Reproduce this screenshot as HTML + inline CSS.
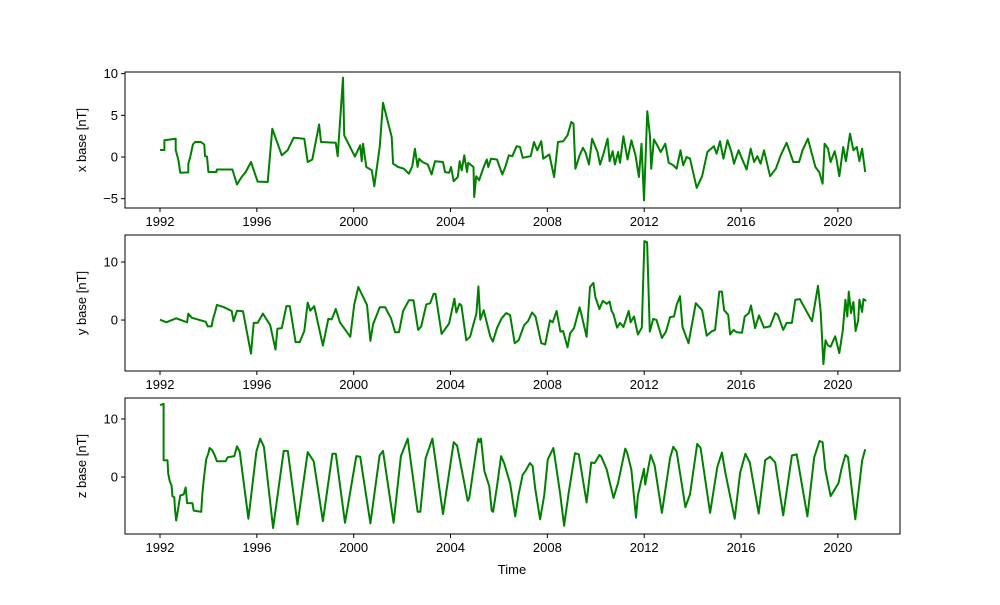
<!DOCTYPE html>
<html><head><meta charset="utf-8"><style>
html,body{margin:0;padding:0;background:#fff;}
svg text{font-family:"Liberation Sans","DejaVu Sans",sans-serif;font-size:13px;fill:#000;}
</style></head><body>
<svg id="chart" width="1000" height="600" viewBox="0 0 1000 600" xmlns="http://www.w3.org/2000/svg"></svg>
<script>
const xTickYears = [1992,1996,2000,2004,2008,2012,2016,2020];
const xBaseT = [1992.0,1992.18,1992.18,1992.65,1992.65,1992.76,1992.84,1993.17,1993.17,1993.25,1993.36,1993.45,1993.69,1993.83,1993.86,1993.94,1994.0,1994.33,1994.35,1994.99,1995.18,1995.37,1995.54,1995.76,1996.03,1996.45,1996.64,1997.03,1997.27,1997.52,1997.96,1998.1,1998.29,1998.57,1998.65,1999.26,1999.34,1999.56,1999.61,2000.05,2000.27,2000.33,2000.39,2000.52,2000.75,2000.85,2001.08,2001.21,2001.57,2001.63,2001.84,2002.07,2002.28,2002.42,2002.53,2002.64,2002.7,2002.84,2003.06,2003.22,2003.36,2003.69,2003.77,2003.94,2004.02,2004.13,2004.3,2004.38,2004.46,2004.57,2004.68,2004.73,2004.95,2004.98,2005.06,2005.18,2005.37,2005.5,2005.56,2005.67,2005.92,2006.14,2006.25,2006.41,2006.55,2006.73,2006.87,2006.98,2007.31,2007.45,2007.58,2007.75,2007.83,2008.08,2008.28,2008.44,2008.66,2008.83,2008.99,2009.08,2009.16,2009.33,2009.47,2009.58,2009.72,2009.85,2010.07,2010.18,2010.32,2010.49,2010.57,2010.7,2010.79,2010.92,2011.0,2011.14,2011.31,2011.47,2011.64,2011.78,2011.89,2011.99,2012.13,2012.24,2012.29,2012.4,2012.52,2012.68,2012.87,2013.01,2013.2,2013.34,2013.5,2013.61,2013.75,2013.89,2014.17,2014.39,2014.61,2014.72,2014.88,2014.99,2015.13,2015.27,2015.44,2015.6,2015.71,2015.9,2016.04,2016.23,2016.4,2016.54,2016.67,2016.81,2016.95,2017.2,2017.44,2017.64,2017.88,2018.16,2018.4,2018.54,2018.76,2019.07,2019.23,2019.37,2019.45,2019.59,2019.7,2019.87,2019.95,2020.06,2020.22,2020.33,2020.5,2020.64,2020.78,2020.89,2021.0,2021.13];
const xBaseV = [0.84,0.84,2.0,2.2,0.84,-0.36,-1.9,-1.85,-0.84,0.05,1.5,1.8,1.8,1.5,0.1,0.05,-1.8,-1.8,-1.5,-1.5,-3.3,-2.4,-1.8,-0.6,-2.95,-3.0,3.4,0.2,0.8,2.3,2.2,-0.6,-0.3,3.9,1.8,1.7,0.1,9.5,2.6,0.05,1.4,-0.5,1.6,-1.2,-1.6,-3.5,1.3,6.5,2.4,-0.8,-1.2,-1.4,-2.0,-1.1,1.0,-1.2,-0.2,-0.6,-0.9,-2.1,-0.5,-0.6,-1.8,-1.9,-1.2,-2.9,-2.4,-0.5,-1.6,0.2,-1.8,-0.7,-1.2,-4.8,-2.3,-2.8,-1.2,-0.3,-1.2,-0.2,-0.3,-2.1,-1.3,0.2,0.1,1.3,1.2,-0.1,0.1,1.8,0.8,1.9,-0.2,0.3,-2.4,1.8,1.9,2.6,4.2,4.0,-1.4,0.2,1.1,0.5,-0.9,2.2,0.6,-0.9,0.4,2.2,-0.5,0.7,-0.9,0.6,-0.7,2.5,-0.3,2.0,0.2,-2.4,1.6,-5.2,5.5,2.5,-1.4,2.1,1.5,0.6,1.6,-0.7,-1.0,-1.4,0.8,-1.0,0.0,-0.2,-3.7,-2.3,0.6,0.9,1.3,0.4,1.9,-0.2,2.0,0.6,-0.8,0.8,-0.2,-1.5,1.0,-0.6,0.1,-0.8,0.8,-2.3,-1.4,0.2,1.7,-0.6,-0.6,0.8,2.2,-1.2,-1.8,-3.2,1.6,1.0,-0.6,0.7,-0.4,-2.3,1.2,-0.5,2.8,0.8,1.2,-0.5,1.0,-1.8];
const yBaseT = [1992.0,1992.26,1992.67,1993.12,1993.17,1993.31,1993.89,1993.97,1994.13,1994.19,1994.27,1994.35,1994.65,1994.96,1995.04,1995.18,1995.43,1995.76,1995.87,1996.03,1996.25,1996.55,1996.77,1996.85,1997.03,1997.22,1997.36,1997.6,1997.77,1997.96,1998.1,1998.21,1998.37,1998.73,1998.95,1999.09,1999.26,1999.43,1999.86,2000.02,2000.19,2000.55,2000.69,2000.8,2001.08,2001.3,2001.54,2001.71,2001.87,2002.04,2002.28,2002.47,2002.66,2002.79,2003.0,2003.16,2003.3,2003.38,2003.63,2003.94,2004.16,2004.24,2004.37,2004.45,2004.65,2004.81,2004.96,2005.07,2005.15,2005.23,2005.37,2005.64,2005.75,2005.92,2006.11,2006.3,2006.46,2006.65,2006.81,2007.04,2007.2,2007.37,2007.51,2007.75,2007.91,2008.11,2008.22,2008.38,2008.54,2008.65,2008.83,2008.94,2009.1,2009.33,2009.41,2009.62,2009.76,2009.9,2009.98,2010.15,2010.29,2010.45,2010.57,2010.65,2010.73,2010.88,2011.0,2011.14,2011.36,2011.44,2011.58,2011.74,2011.9,2012.01,2012.12,2012.23,2012.37,2012.51,2012.73,2012.9,2013.07,2013.23,2013.34,2013.48,2013.58,2013.83,2014.13,2014.39,2014.58,2014.77,2014.93,2015.1,2015.21,2015.3,2015.47,2015.55,2015.69,2015.82,2016.04,2016.15,2016.32,2016.41,2016.58,2016.74,2016.95,2017.2,2017.41,2017.52,2017.74,2017.88,2018.1,2018.24,2018.43,2018.68,2018.93,2019.18,2019.29,2019.4,2019.49,2019.59,2019.7,2019.89,2020.06,2020.2,2020.31,2020.39,2020.45,2020.54,2020.64,2020.73,2020.84,2020.89,2021.0,2021.06,2021.17];
const yBaseV = [0.05,-0.4,0.3,-0.4,1.1,0.4,-0.3,-1.1,-1.1,0.2,1.3,2.6,2.2,1.55,-0.2,1.6,1.5,-5.8,-0.5,-0.5,1.1,-0.9,-5.1,-1.5,-1.4,2.4,2.4,-3.8,-3.8,-1.9,3.0,1.6,2.4,-4.4,0.2,0.1,1.9,-0.4,-2.9,2.6,5.7,2.6,-3.6,-0.7,2.2,2.2,0.3,-2.1,-2.1,1.55,3.4,3.4,-1.7,-1.1,2.7,2.9,4.5,4.5,-2.4,-0.6,3.7,1.3,2.8,2.5,-3.5,-2.9,-0.5,1.1,5.8,0.05,1.7,-2.8,-3.7,-1.4,0.3,1.2,0.85,-4.0,-3.5,-0.9,-0.2,1.3,0.6,-4.0,-4.2,-0.05,-0.4,1.55,-2.0,-1.9,-4.7,-2.3,-1.4,2.2,0.9,-2.9,5.7,6.4,4.0,1.9,3.3,2.8,3.2,1.6,1.0,-1.3,-0.5,-1.2,1.55,-0.4,0.6,-2.5,-1.3,13.6,13.4,-2.0,0.2,0.0,-3.1,-2.0,0.5,0.6,2.6,4.1,-1.2,-4.0,2.9,1.7,-2.7,-2.0,-1.7,4.9,4.9,1.7,0.9,-2.5,-1.7,-2.1,-2.2,0.6,1.2,2.5,-1.4,0.8,-1.3,-1.1,1.2,0.9,-1.7,-0.5,-0.5,3.5,3.6,1.7,-0.2,5.9,1.4,-7.6,-3.5,-4.4,-4.6,-2.8,-5.7,-1.9,3.5,0.6,4.9,1.2,3.1,-1.9,-0.05,3.5,1.4,3.6,3.3];
const zBaseT = [1992.0,1992.15,1992.15,1992.31,1992.34,1992.4,1992.48,1992.51,1992.59,1992.62,1992.67,1992.75,1992.84,1992.98,1993.06,1993.12,1993.34,1993.39,1993.7,1993.75,1993.81,1993.91,1994.0,1994.05,1994.16,1994.27,1994.35,1994.71,1994.79,1995.07,1995.18,1995.29,1995.65,1995.98,1996.14,1996.29,1996.67,1997.11,1997.28,1997.68,1998.1,1998.35,1998.73,1999.12,1999.26,1999.64,2000.11,2000.27,2000.69,2001.07,2001.21,2001.65,2001.95,2002.23,2002.64,2002.75,2002.97,2003.25,2003.69,2004.13,2004.27,2004.71,2004.77,2005.1,2005.15,2005.2,2005.26,2005.4,2005.6,2005.7,2005.76,2005.92,2006.09,2006.22,2006.46,2006.67,2006.81,2006.98,2007.09,2007.28,2007.39,2007.5,2007.7,2007.87,2008.02,2008.25,2008.52,2008.69,2008.88,2009.14,2009.3,2009.62,2009.81,2009.95,2010.15,2010.23,2010.45,2010.73,2010.92,2011.22,2011.3,2011.47,2011.66,2011.74,2011.85,2011.99,2012.04,2012.27,2012.43,2012.73,2013.07,2013.2,2013.34,2013.7,2013.89,2014.19,2014.33,2014.72,2015.02,2015.21,2015.35,2015.74,2015.96,2016.18,2016.36,2016.73,2017.0,2017.2,2017.41,2017.74,2018.1,2018.3,2018.74,2019.02,2019.24,2019.37,2019.48,2019.7,2020.02,2020.15,2020.31,2020.42,2020.72,2021.0,2021.13];
const zBaseV = [12.4,12.6,2.9,2.9,0.6,-0.7,-1.5,-3.3,-3.5,-5.6,-7.5,-5.4,-3.2,-3.0,-1.8,-4.5,-4.5,-5.8,-6.0,-2.8,-0.4,3.05,4.1,5.0,4.6,3.6,2.7,2.7,3.4,3.6,5.3,4.4,-7.2,4.4,6.6,5.2,-8.8,4.5,4.5,-8.2,4.3,2.7,-7.6,4.0,4.0,-7.9,3.6,3.5,-8.0,3.7,4.5,-7.9,3.6,6.6,-6.0,-6.0,3.2,6.6,-6.4,6.0,5.4,-4.1,-3.7,5.8,6.6,6.0,6.6,1.0,-1.6,-5.8,-6.0,-1.6,3.6,2.3,-1.1,-6.8,-3.0,0.4,1.0,2.4,1.9,-2.1,-7.3,-3.2,3.05,5.0,-2.7,-8.4,-2.7,4.1,3.9,-4.4,2.5,2.4,3.8,3.5,1.3,-3.6,-1.0,4.9,4.1,1.2,-7.0,-3.2,-1.1,1.4,-1.3,3.8,2.0,-6.2,3.3,5.2,4.4,-5.2,-3.0,5.7,5.0,-6.2,1.7,4.2,0.8,-7.2,0.7,4.0,2.5,-6.3,2.9,3.5,2.5,-6.6,3.7,3.9,-6.8,3.4,6.2,6.0,1.3,-3.3,-1.1,1.4,3.8,3.4,-7.3,2.8,4.8];
const p1Ticks = [-5,0,5,10];
const p2Ticks = [0,10];
const p3Ticks = [0,10];

const NS = "http://www.w3.org/2000/svg";
const svg = document.getElementById('chart');
const X0 = 125, X1 = 900, T0 = 1990.554, T1 = 2022.566;
function xScale(t){ return X0 + (t - T0) / (T1 - T0) * (X1 - X0); }
function mk(tag, attrs, parent){ const e = document.createElementNS(NS, tag); for (const k in attrs) e.setAttribute(k, attrs[k]); (parent||svg).appendChild(e); return e; }

const panels = [
  {top:72, bot:208, vmin:-6.12, vmax:10.2, t:xBaseT, v:xBaseV, ticks:p1Ticks, label:'x base [nT]', key:'x'},
  {top:235, bot:371, vmin:-8.79, vmax:14.66, t:yBaseT, v:yBaseV, ticks:p2Ticks, label:'y base [nT]', key:'y'},
  {top:398, bot:534, vmin:-9.83, vmax:13.62, t:zBaseT, v:zBaseV, ticks:p3Ticks, label:'z base [nT]', key:'z'}
];
panels.forEach(p => {
  const yScale = v => p.bot - (v - p.vmin) / (p.vmax - p.vmin) * (p.bot - p.top);
  const g = mk('g', {});
  
  
  let d = '';
  p.t.forEach((t, i) => { d += (i ? 'L' : 'M') + xScale(t).toFixed(1) + ',' + yScale(p.v[i]).toFixed(1); });
  const line = mk('path', {d: d, fill: 'none', stroke: '#008000', 'stroke-width': 2, 'stroke-linejoin': 'round'}, g);
  
  
  const frame = mk('rect', {x: X0, y: p.top, width: X1 - X0, height: p.bot - p.top, fill: 'none', stroke: '#000', 'stroke-width': 1}, g);
  
  
  xTickYears.forEach(yr => {
    const x = xScale(yr);
    mk('line', {x1: x, x2: x, y1: p.bot, y2: p.bot + 4, stroke: '#000'}, g);
    const tx = mk('text', {x: x, y: p.bot + 18, 'text-anchor': 'middle'}, g);
    tx.textContent = yr;
    
    
  });
  p.ticks.forEach(v => {
    const y = yScale(v);
    mk('line', {x1: X0 - 4, x2: X0, y1: y, y2: y, stroke: '#000'}, g);
    const tx = mk('text', {x: X0 - 7, y: y + 4.5, 'text-anchor': 'end'}, g);
    tx.textContent = v < 0 ? '\u2212' + Math.abs(v) : v;
    
    
  });
  const cy = (p.top + p.bot) / 2;
  const yl = mk('text', {x: 86, y: cy, 'text-anchor': 'middle', transform: 'rotate(-90 86 ' + cy + ')'}, g);
  yl.textContent = p.label;
  
  
});
const xl = mk('text', {x: 512, y: 574, 'text-anchor': 'middle'});
xl.textContent = 'Time';


</script>
</body></html>
